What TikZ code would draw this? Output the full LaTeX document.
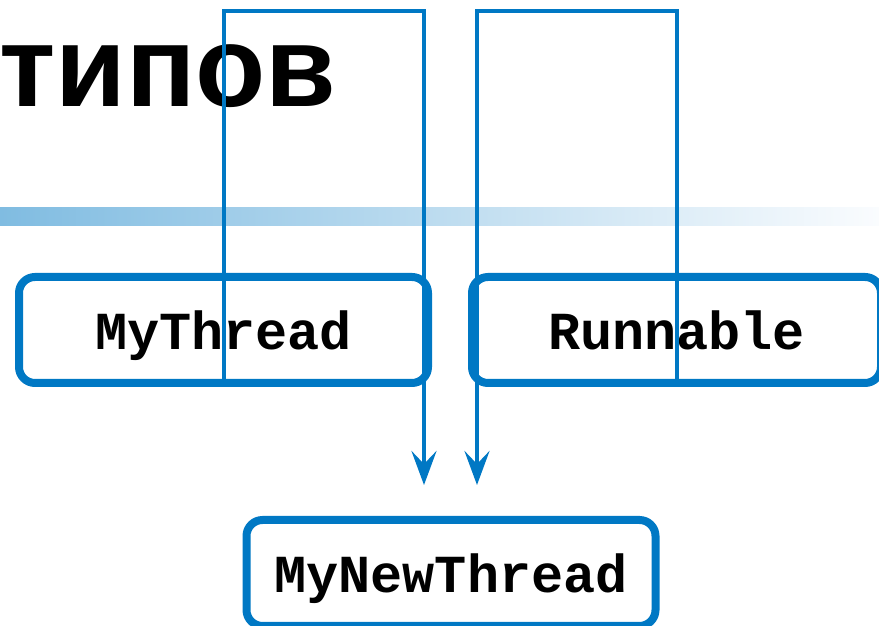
\documentclass[tikz,border=0pt]{standalone}
\usepackage{fontspec}
\usetikzlibrary{arrows.meta,calc}
\newfontfamily\titlefont{Liberation Sans}
\newfontfamily\codefont{Liberation Mono}
\definecolor{jblue}{RGB}{0,120,196}
\definecolor{barleft}{RGB}{128,188,225}
\definecolor{barright}{RGB}{250,252,254}
\begin{document}
\begin{tikzpicture}[x=1pt,y=1pt,
  box/.style={draw=jblue, line width=8pt, rounded corners=16pt, fill=white,
    minimum width=409pt, minimum height=106pt, inner sep=0pt,
    text height=40pt, text depth=0pt,
    font=\codefont\bfseries\fontsize{53.5}{60}\selectfont},
  conn/.style={draw=jblue, line width=4pt,
    -{Stealth[length=34pt,width=25pt,inset=13pt]}},
  titletext/.style={anchor=base west, inner sep=0pt,
    font=\titlefont\bfseries\fontsize{115}{120}\selectfont}]
\useasboundingbox (0,0) rectangle (879,626);
\shade[left color=barleft, right color=barright] (0,400) rectangle (879,418);
\node[titletext] (title) at (-1,519) {типов};
\node[box] (mt) at (223.5,296) {MyThread};
\node[box] (rn) at (676.5,296) {Runnable};
\node[box] (mnt) at (451,53) {MyNewThread};
\coordinate (ref) at (0,615);
\coordinate (e1) at ($(mnt.north)+(-27,31)$);
\coordinate (e2) at ($(mnt.north)+(26,31)$);
\draw[conn] (mt.south) -- (mt.south |- ref) -| (e1);
\draw[conn] (rn.south) -- (rn.south |- ref) -| (e2);
\end{tikzpicture}
\end{document}
